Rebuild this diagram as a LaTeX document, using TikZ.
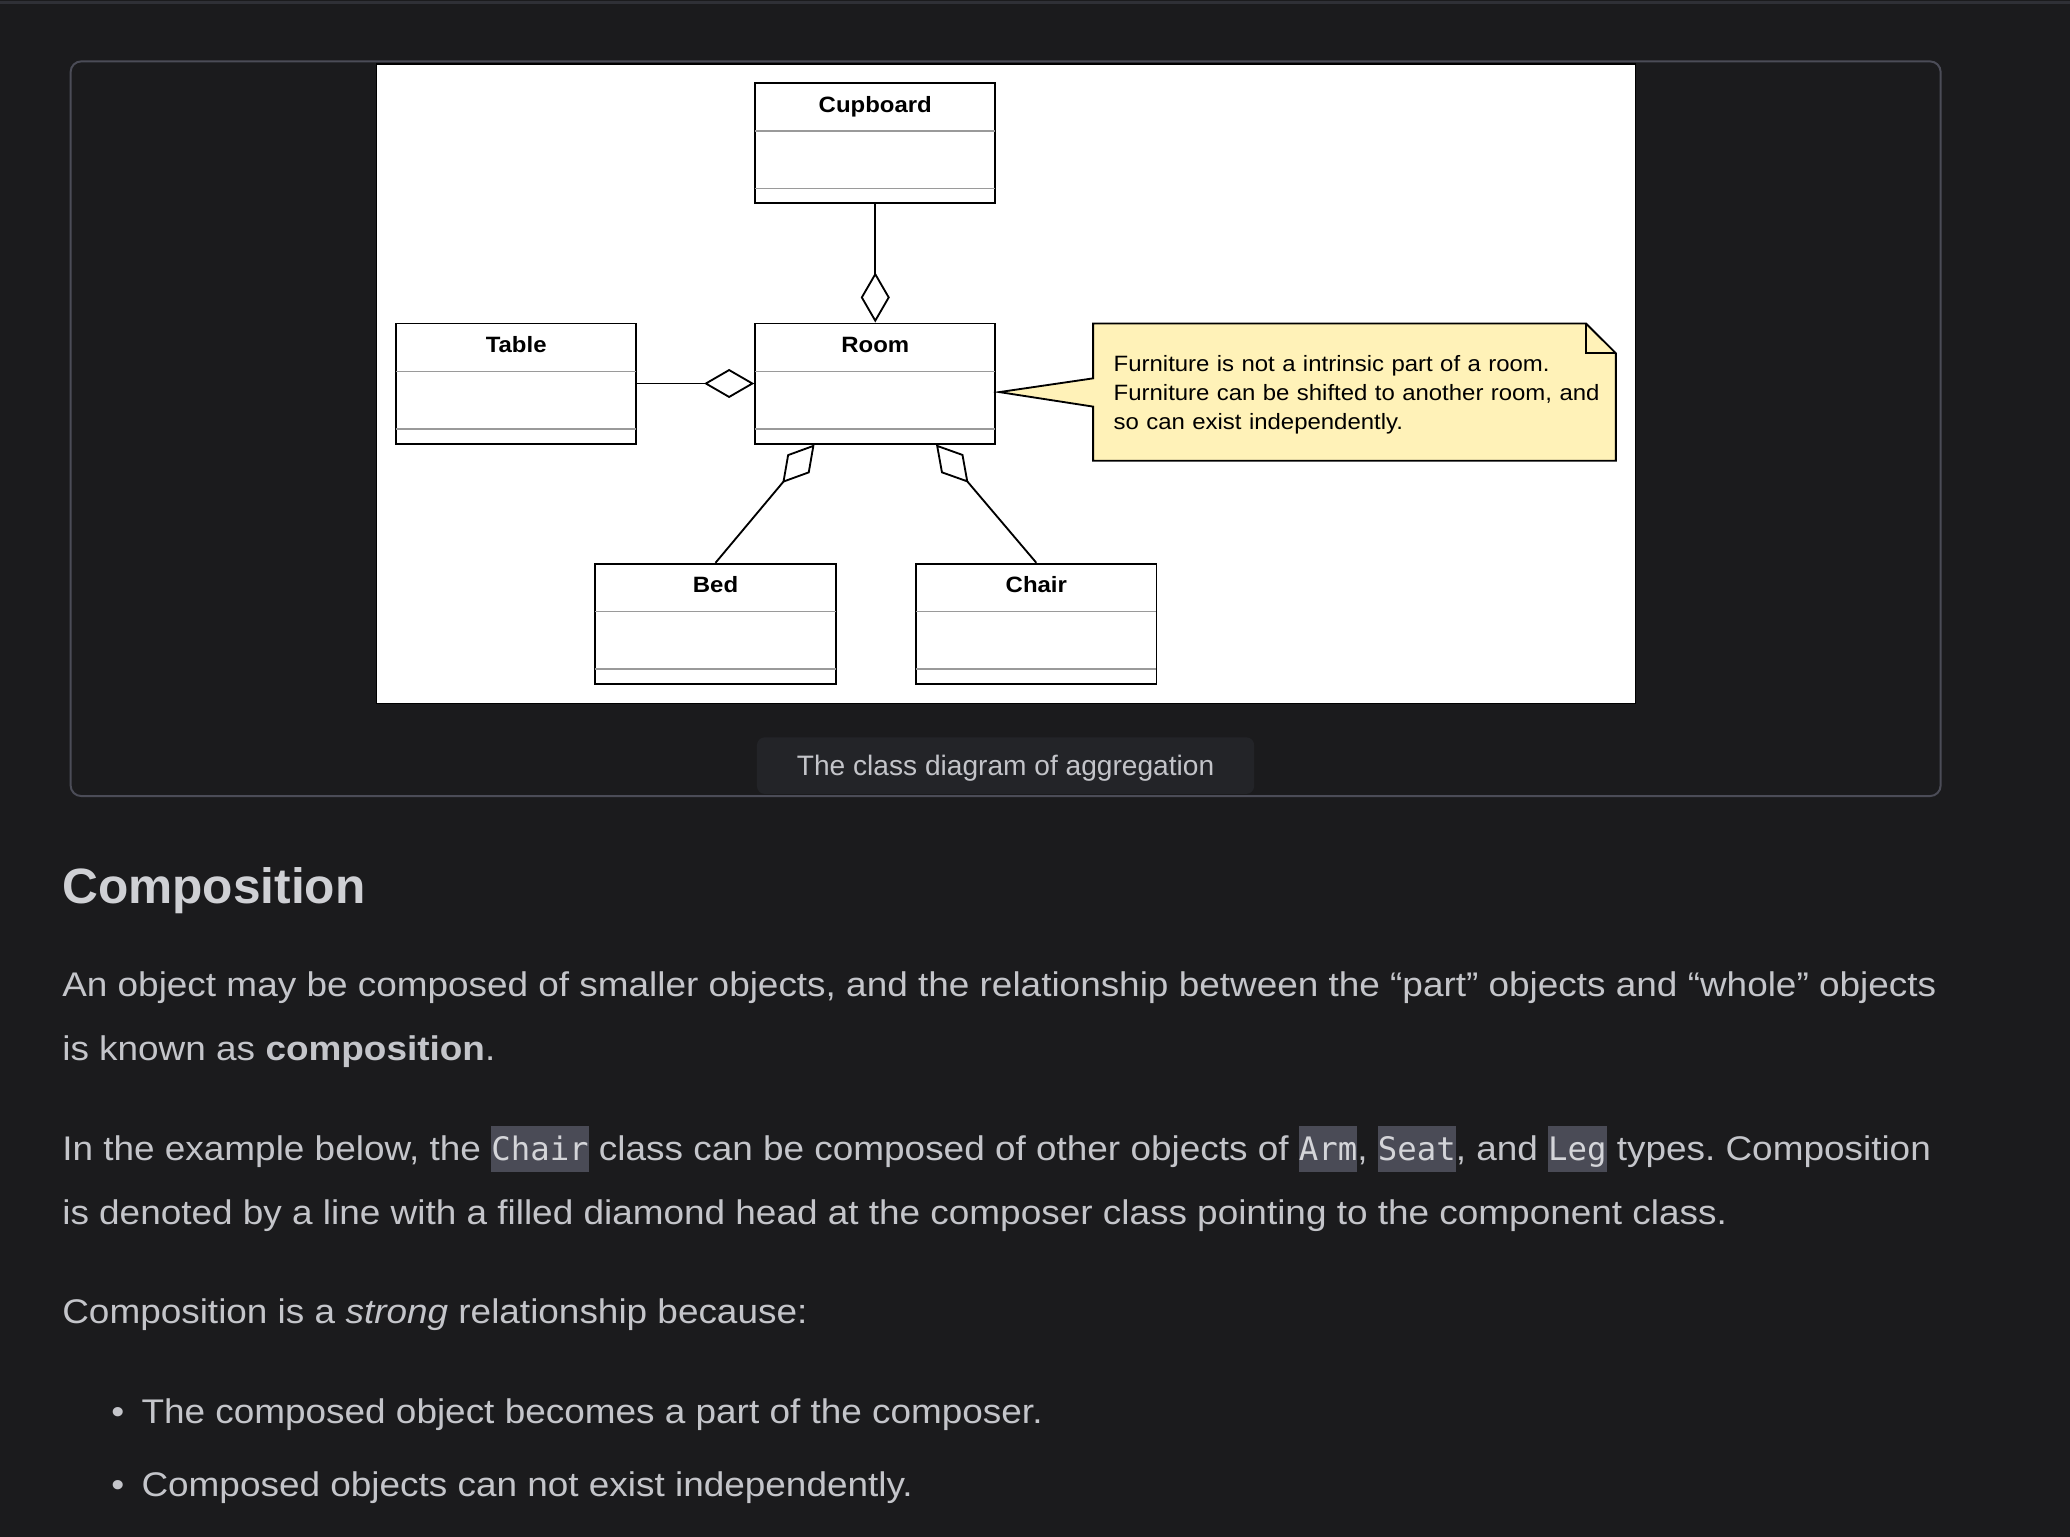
\documentclass[tikz,border=0pt]{standalone}
\usepackage{fontspec}
\setmainfont{Liberation Sans}[FakeStretch=1.08]
\newfontfamily\capfont{Liberation Sans}
\newfontfamily\codefont{DejaVu Sans Mono}
\usetikzlibrary{arrows.meta}
\frenchspacing
\definecolor{pagebg}{HTML}{1B1B1D}
\definecolor{topline}{HTML}{2F3036}
\definecolor{framecol}{HTML}{4B4C57}
\definecolor{capbg}{HTML}{232428}
\definecolor{capfg}{HTML}{C3C4C9}
\definecolor{bodyfg}{HTML}{C4C5CA}
\definecolor{headfg}{HTML}{CFD0D4}
\definecolor{codebg}{HTML}{4A4B56}
\definecolor{codefg}{HTML}{D4D5D9}
\definecolor{notebg}{HTML}{FFF2B8}
\definecolor{sepgray}{HTML}{9A9A9A}
\newcommand{\codespan}[1]{{\setlength{\fboxsep}{0pt}\colorbox{codebg}{\rule[-8.8pt]{0pt}{34.5pt}\codefont\fontsize{24.5}{30}\selectfont\textcolor{codefg}{#1}}}}
\tikzset{
  cls/.style={draw=black, line width=1.4pt, fill=white, minimum width=182pt, minimum height=91pt, inner sep=0pt},
  clstitle/.style={anchor=base, inner sep=0pt, text=black, font=\bfseries\fontsize{16.8}{20}\selectfont},
  sepline/.style={draw=sepgray, line width=1.3pt},
  agg/.style={draw=black, line width=1.4pt, -{Diamond[length=38pt, width=22pt, fill=white]}},
  bodytext/.style={anchor=base west, inner sep=0pt, text=bodyfg, font=\fontsize{25.9}{31}\selectfont},
}
\begin{document}
\begin{tikzpicture}[x=1pt, y=-1pt]
\useasboundingbox (0,0) rectangle (1568,1164);
\fill[pagebg] (0,0) rectangle (1568,1164);
\draw[topline, line width=2pt] (0,2) -- (1568,2);
% figure frame
\draw[framecol, line width=1.5pt, rounded corners=8pt] (53.5,46.5) rectangle (1470,603);
% diagram image
\fill[white, draw=black, line width=1pt] (285,48.5) rectangle (1239,533);
% class boxes
\node[cls] (cup)   at (663,108.5) {};
\node[cls] (room)  at (663,290.5) {};
\node[cls] (table) at (391,290.5) {};
\node[cls] (bed)   at (542,472.5) {};
\node[cls] (chair) at (785,472.5) {};
\foreach \n in {cup,room,table,bed,chair}{
  \draw[sepline] ([shift={(0.7pt,-37pt)}]\n.north west) -- ([shift={(-0.7pt,-37pt)}]\n.north east);
  \draw[sepline] ([shift={(0.7pt,12pt)}]\n.south west) -- ([shift={(-0.7pt,12pt)}]\n.south east);
}
\node[clstitle] (cupT)   at ([yshift=-22.8pt]cup.north)   {Cupboard};
\node[clstitle] (roomT)  at ([yshift=-22.8pt]room.north)  {Room};
\node[clstitle] (tableT) at ([yshift=-22.8pt]table.north) {Table};
\node[clstitle] (bedT)   at ([yshift=-22.8pt]bed.north)   {Bed};
\node[clstitle] (chairT) at ([yshift=-22.8pt]chair.north) {Chair};
% aggregation connectors
\draw[agg] (cup.south) -- (room.north);
\draw[agg] (table.east) -- (room.west);
\draw[agg] (bed.north) -- ([xshift=-46pt]room.south);
\draw[agg] (chair.north) -- ([xshift=46pt]room.south);
% note
\coordinate (notetip) at (757,297);
\coordinate (nA) at (828,245);
\coordinate (nB) at (1201.3,245);
\coordinate (nC) at (1224,267.6);
\coordinate (nD) at (1224,349);
\coordinate (nE) at (828,349);
\coordinate (nF) at (828,308);
\coordinate (nG) at (828,286.6);
\coordinate (nK) at (1201.3,267.6);
\filldraw[fill=notebg, draw=black, line width=1.4pt, line join=miter]
  (nA) -- (nB) -- (nC) -- (nD) -- (nE) -- (nF) -- (notetip) -- (nG) -- cycle;
\draw[black, line width=1.4pt] (nB) -- (nK) -- (nC);
\node[anchor=base west, inner sep=0pt, text width=380pt, align=left, text=black,
      font=\fontsize{16.8}{21.8}\selectfont] (note) at (843.4,281.5)
  {Furniture is not a intrinsic part of a room.\\
   Furniture can be shifted to another room, and\\
   so can exist independently.};
% caption
\fill[capbg, rounded corners=6pt] (573.4,558.5) rectangle (950,601.4);
\node[anchor=base, inner sep=0pt, text=capfg, font=\capfont\fontsize{21.3}{26}\selectfont] (caption) at (761.7,587.8) {The class diagram of aggregation};
% article text
\node[anchor=base west, inner sep=0pt, text=headfg, font=\capfont\bfseries\fontsize{37.6}{44}\selectfont] (heading) at (47,684.2) {Composition};
\node[bodytext] (p1a) at (47,755) {An object may be composed of smaller objects, and the relationship between the “part” objects and “whole” objects};
\node[bodytext] (p1b) at (47,803.4) {is known as \textbf{composition}.};
\node[bodytext] (p2a) at (47,878.7) {In the example below, the \codespan{Chair} class can be composed of other objects of \codespan{Arm}, \codespan{Seat}, and \codespan{Leg} types. Composition};
\node[bodytext] (p2b) at (47,927.9) {is denoted by a line with a filled diamond head at the composer class pointing to the component class.};
\node[bodytext] (p3) at (47,1002.4) {Composition is a \textit{strong} relationship because:};
\node[bodytext, anchor=base] (b1dot) at (89.2,1078.1) {•};
\node[bodytext] (b1) at (107,1078.1) {The composed object becomes a part of the composer.};
\node[bodytext, anchor=base] (b2dot) at (89.2,1133.2) {•};
\node[bodytext] (b2) at (107,1133.2) {Composed objects can not exist independently.};
\end{tikzpicture}
\end{document}
